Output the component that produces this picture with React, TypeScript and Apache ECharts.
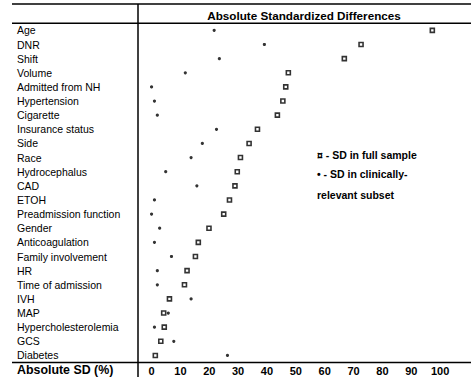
import React, { useEffect, useRef } from "react";
import * as echarts from "echarts";

const categories = [
  "Age", "DNR", "Shift", "Volume", "Admitted from NH", "Hypertension", "Cigarette",
  "Insurance status", "Side", "Race", "Hydrocephalus", "CAD", "ETOH",
  "Preadmission function", "Gender", "Anticoagulation", "Family involvement", "HR",
  "Time of admission", "IVH", "MAP", "Hypercholesterolemia", "GCS", "Diabetes",
];

const fullSample = [
  97.3, 72.6, 66.8, 47.4, 46.5, 45.5, 43.6,
  36.7, 33.8, 30.8, 29.7, 28.9, 27.0,
  25.0, 19.9, 16.2, 15.2, 12.3,
  11.4, 6.2, 4.2, 4.4, 3.2, 1.3,
];

const subset = [
  21.7, 39.1, 23.5, 11.7, 0, 1.0, 2.0,
  22.5, 17.6, 13.7, 4.9, 15.7, 1.0,
  0, 2.8, 1.0, 6.9, 2.0,
  2.0, 13.7, 5.8, 1.0, 7.7, 26.3,
];

const xTicks = [0, 10, 20, 30, 40, 50, 60, 70, 80, 90, 100];

const FONT = "'Liberation Sans', Arial, sans-serif";

export default function App() {
  const ref = useRef<HTMLDivElement>(null);
  useEffect(() => {
    const chart = echarts.init(ref.current!, null, { renderer: "svg" });
    const lineStyle = { stroke: "#000", lineWidth: 1.5 };
    chart.setOption({
      animation: false,
      backgroundColor: "#fff",
      grid: { left: 138, right: 0, top: 23.3, bottom: 14.5 },
      xAxis: {
        type: "value",
        min: -4.7,
        max: 110.7,
        splitLine: { show: false },
        axisTick: { show: false },
        axisLine: { show: false },
        axisLabel: {
          customValues: xTicks,
          color: "#000",
          fontWeight: "bold",
          fontSize: 11,
          fontFamily: FONT,
          margin: 3,
        },
      },
      yAxis: {
        type: "category",
        data: categories,
        inverse: true,
        axisLine: { show: false },
        axisTick: { show: false },
        splitLine: { show: false },
        axisLabel: {
          interval: 0,
          align: "left",
          margin: 121,
          color: "#000",
          fontSize: 10.5,
          fontFamily: FONT,
        },
      },
      series: [
        {
          type: "scatter",
          name: "full",
          symbol: "rect",
          symbolSize: 4,
          itemStyle: { color: "#fff", borderColor: "#000", borderWidth: 1.6 },
          data: fullSample.map((v, i) => [v, categories[i]]),
          z: 3,
        },
        {
          type: "scatter",
          name: "subset",
          symbol: "circle",
          symbolSize: 3.2,
          itemStyle: { color: "#000" },
          data: subset.map((v, i) => [v, categories[i]]),
          z: 4,
        },
      ],
      graphic: [
        { type: "line", shape: { x1: 12, y1: 4, x2: 471, y2: 4 }, style: lineStyle },
        { type: "line", shape: { x1: 12, y1: 23.3, x2: 471, y2: 23.3 }, style: lineStyle },
        { type: "line", shape: { x1: 12, y1: 362.5, x2: 471, y2: 362.5 }, style: lineStyle },
        { type: "line", shape: { x1: 138, y1: 4, x2: 138, y2: 377 }, style: lineStyle },
        {
          type: "text",
          x: 304,
          y: 15,
          style: {
            text: "Absolute Standardized Differences",
            fill: "#000",
            font: `bold 11.7px ${FONT}`,
            textAlign: "center",
            textVerticalAlign: "middle",
          },
        },
        {
          type: "text",
          x: 17,
          y: 370,
          style: {
            text: "Absolute SD (%)",
            fill: "#000",
            font: `bold 12.4px ${FONT}`,
            textAlign: "left",
            textVerticalAlign: "middle",
          },
        },
        {
          type: "text",
          x: 317,
          y: 155,
          style: {
            text: "¤ - SD in full sample",
            fill: "#000",
            font: `bold 10.5px ${FONT}`,
            textAlign: "left",
            textVerticalAlign: "middle",
          },
        },
        {
          type: "text",
          x: 317,
          y: 174,
          style: {
            text: "• - SD in clinically-",
            fill: "#000",
            font: `bold 10.5px ${FONT}`,
            textAlign: "left",
            textVerticalAlign: "middle",
          },
        },
        {
          type: "text",
          x: 317,
          y: 195,
          style: {
            text: "relevant subset",
            fill: "#000",
            font: `bold 10.5px ${FONT}`,
            textAlign: "left",
            textVerticalAlign: "middle",
          },
        },
      ],
    });
    return () => chart.dispose();
  }, []);
  return (
    <div
      ref={ref}
      style={{ position: "fixed", left: 0, top: 0, width: 471, height: 377, background: "#fff" }}
    />
  );
}
